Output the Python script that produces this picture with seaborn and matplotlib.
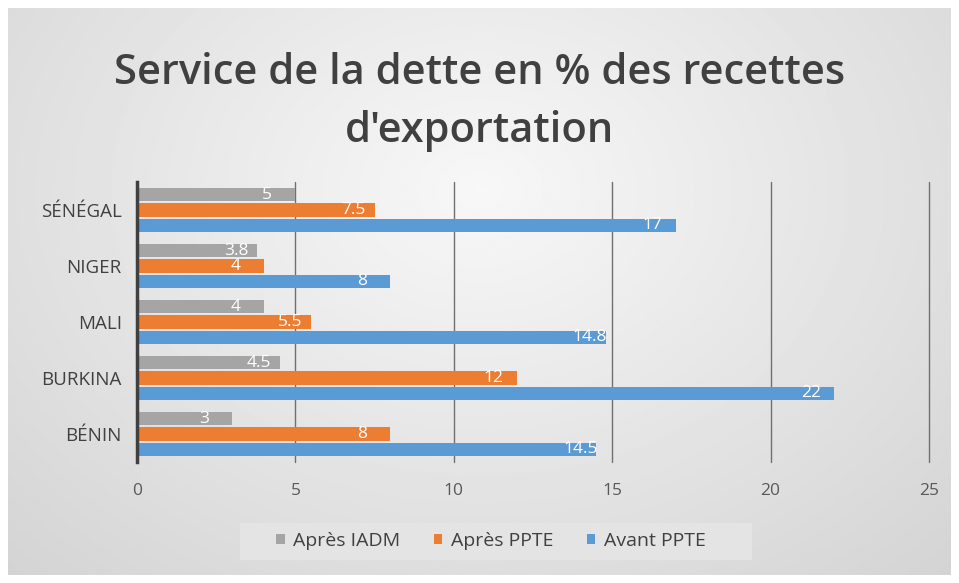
import numpy as np
import pandas as pd
import matplotlib
matplotlib.use("Agg")
import matplotlib.pyplot as plt
from matplotlib.patches import Rectangle
import seaborn as sns

countries = ["SÉNÉGAL", "NIGER", "MALI", "BURKINA", "BÉNIN"]
series = ["Après IADM", "Après PPTE", "Avant PPTE"]
apres_iadm = [5, 3.8, 4, 4.5, 3]
apres_ppte = [7.5, 4, 5.5, 12, 8]
avant_ppte = [17, 8, 14.8, 22, 14.5]
xticks = [0, 5, 10, 15, 20, 25]
title = "Service de la dette en % des recettes\nd'exportation"
colors = ["#A5A5A5", "#ED7D31", "#5B9BD5"]

rows = []
for s, vals in zip(series, [apres_iadm, apres_ppte, avant_ppte]):
    for c, v in zip(countries, vals):
        rows.append({"pays": c, "serie": s, "valeur": v})
df = pd.DataFrame(rows)

sns.set_theme(style="white")
plt.rcParams["font.family"] = ["Open Sans", "DejaVu Sans"]

fig = plt.figure(figsize=(9.59, 5.83), dpi=100)
fig.patch.set_facecolor("white")

# background gradient
bg = fig.add_axes([8/959, 8/583, 943/959, 567/583])
bg.set_zorder(0)
yy, xx = np.mgrid[-1:1:300j, -1:1:500j]
r = np.sqrt((xx*0.9)**2 + (yy*0.7 + 0.25)**2)
img = 0.97 - 0.15 * np.clip(r, 0, 1.4) / 1.4
bg.imshow(img, cmap="gray", vmin=0, vmax=1, aspect="auto", extent=[0, 1, 0, 1])
bg.set_axis_off()

# legend box
fig.patches.append(Rectangle((240/959, 23/583), 512/959, 37/583, transform=fig.transFigure,
                             facecolor="#E4E4E4", edgecolor="none", zorder=1))

ax = fig.add_axes([137/959, 121/583, 792/959, 280/583])
ax.set_zorder(2)
ax.patch.set_alpha(0)
sns.barplot(data=df, y="pays", x="valeur", hue="serie", order=countries,
            hue_order=series, palette=colors, orient="h", width=0.83,
            ax=ax, saturation=1, legend=True, linewidth=0, edgecolor="none")

for cont in ax.containers:
    for bar in cont:
        h = bar.get_height()
        bar.set_height(h * 0.9)
        bar.set_y(bar.get_y() + h * 0.05)
    labels = [("%g" % b.get_width()) for b in cont]
    ax.bar_label(cont, labels=labels, padding=-24, color="white", fontsize=12.5)

ax.set_xlim(0, 25)
ax.set_xticks(xticks)
ax.set_xticklabels([str(t) for t in xticks], color="#595959", fontsize=12.5)
ax.tick_params(axis="x", length=0, pad=15)
ax.tick_params(axis="y", length=0, pad=11, labelsize=13.5, labelcolor="#404040")
ax.set_xlabel("")
ax.set_ylabel("")
ax.grid(axis="x", color="#707070", linewidth=1.0)
for gl in ax.get_xgridlines():
    gl.set_clip_on(False)
ax.set_axisbelow(True)
for s in ["top", "right", "bottom"]:
    ax.spines[s].set_visible(False)
ax.spines["left"].set_color("#404040")
ax.spines["left"].set_linewidth(2.5)

leg = ax.legend(loc="center", bbox_to_anchor=(491/959, 42/583),
                bbox_transform=fig.transFigure,
                ncol=3, frameon=False, fontsize=14, handlelength=0.45, handleheight=0.45,
                handletextpad=0.45, columnspacing=1.7, borderpad=0.2, borderaxespad=0)
for t in leg.get_texts():
    t.set_color("#404040")

fig.text(0.5, 481/583, title, ha="center", va="center", fontsize=30,
         fontweight="semibold", color="#404040", linespacing=1.52)

fig.savefig("out.png", dpi=100)
